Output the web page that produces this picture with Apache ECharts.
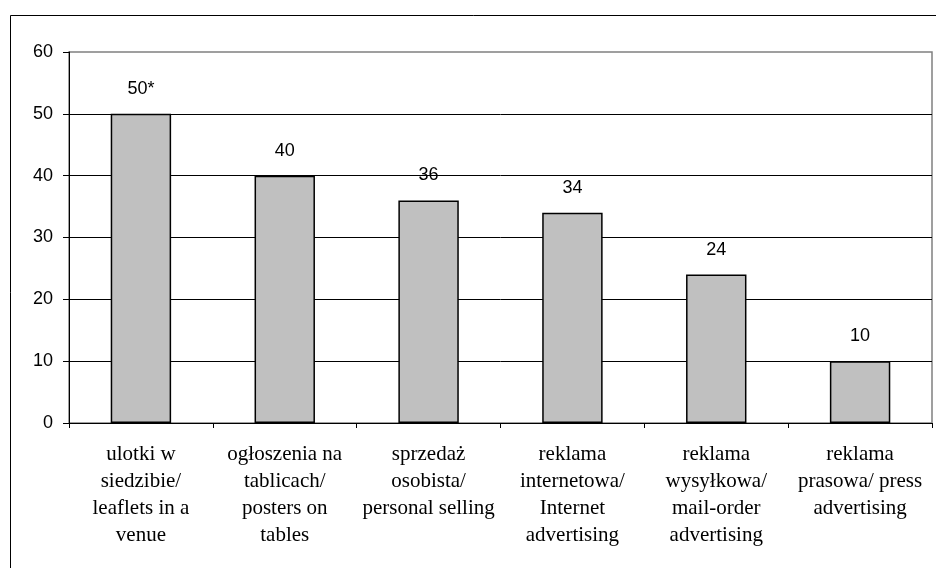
<!DOCTYPE html>
<html>
<head>
<meta charset="utf-8">
<script src="https://cdn.jsdelivr.net/npm/echarts@6/dist/echarts.min.js"></script>
<style>
  html, body { margin: 0; padding: 0; background: #fff; }
  #chart { width: 936px; height: 568px; }
</style>
</head>
<body>
<div id="chart"></div>
<script>
// Promotion channels (share of respondents, %)
const categories = [
  'ulotki w\nsiedzibie/\nleaflets in a\nvenue',
  'ogłoszenia na\ntablicach/\nposters on\ntables',
  'sprzedaż\nosobista/\npersonal selling',
  'reklama\ninternetowa/\nInternet\nadvertising',
  'reklama\nwysyłkowa/\nmail-order\nadvertising',
  'reklama\nprasowa/ press\nadvertising'
];
const values = [50, 40, 36, 34, 24, 10];
const valueNotes = ['*', '', '', '', '', ''];
const yTicks = { min: 0, max: 60, interval: 10 };

const chart = echarts.init(document.getElementById('chart'), null, { renderer: 'canvas' });
chart.setOption({
  animation: false,
  backgroundColor: '#fff',
  graphic: [{
    type: 'rect',
    shape: { x: 10.5, y: 15.5, width: 960, height: 600 },
    style: { fill: 'none', stroke: '#000', lineWidth: 1 },
    silent: true,
    z: -1
  }],
  grid: {
    left: 69, right: 4, top: 52, bottom: 145,
    show: true,
    borderColor: '#808080',
    borderWidth: 1.5,
    backgroundColor: 'transparent'
  },
  xAxis: {
    type: 'category',
    data: categories,
    axisLine: { lineStyle: { color: '#000', width: 1 } },
    axisTick: { show: true, alignWithLabel: false, length: 5, lineStyle: { color: '#000' } },
    axisLabel: {
      interval: 0,
      margin: 18,
      color: '#000',
      fontFamily: '"Liberation Serif", "Times New Roman", serif',
      fontSize: 21,
      lineHeight: 27,
      align: 'center'
    },
    splitLine: { show: false }
  },
  yAxis: {
    type: 'value',
    min: yTicks.min,
    max: yTicks.max,
    interval: yTicks.interval,
    axisLine: { show: true, lineStyle: { color: '#000', width: 1 } },
    axisTick: { show: true, length: 6, lineStyle: { color: '#000' } },
    axisLabel: {
      margin: 16,
      color: '#000',
      fontFamily: '"Liberation Sans", Arial, sans-serif',
      fontSize: 18
    },
    splitLine: { show: true, showMaxLine: false, lineStyle: { color: '#000', width: 1 } }
  },
  series: [{
    type: 'bar',
    data: values,
    barWidth: '42%',
    itemStyle: { color: '#c0c0c0', borderColor: '#000', borderWidth: 1.5 },
    label: {
      show: true,
      position: 'top',
      distance: 16,
      color: '#000',
      fontFamily: '"Liberation Sans", Arial, sans-serif',
      fontSize: 18,
      formatter: p => p.value + valueNotes[p.dataIndex]
    }
  }]
});
</script>
</body>
</html>
